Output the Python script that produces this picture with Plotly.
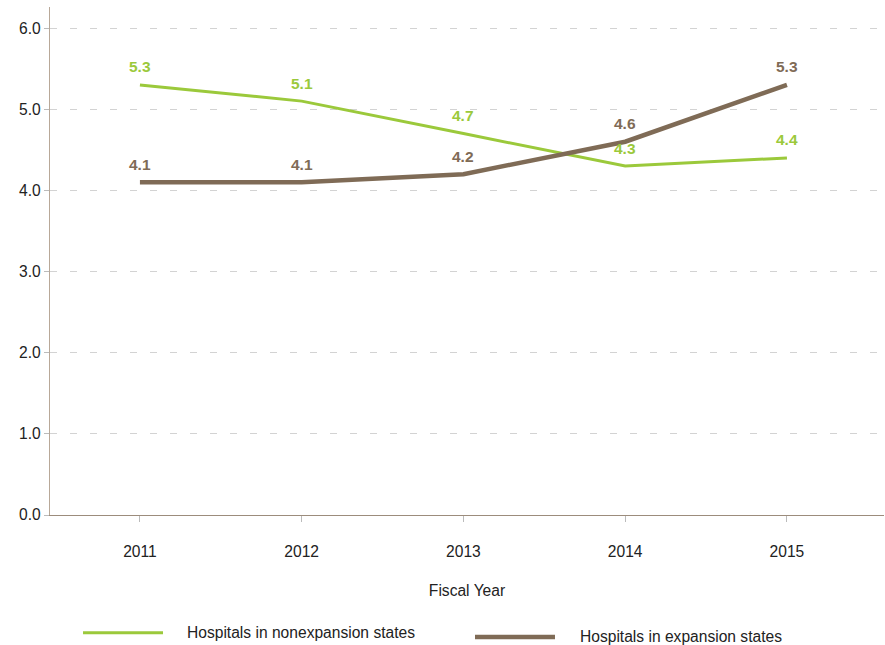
import plotly.graph_objects as go

# Fiscal years and series values (share, %)
years = [2011, 2012, 2013, 2014, 2015]
nonexpansion = [5.3, 5.1, 4.7, 4.3, 4.4]
expansion = [4.1, 4.1, 4.2, 4.6, 5.3]
y_ticks = [0, 1, 2, 3, 4, 5, 6]

series_names = ["Hospitals in nonexpansion states", "Hospitals in expansion states"]
GREEN = "#9BC93B"
BROWN = "#7F6B56"
FONT = "Liberation Sans, Arial, sans-serif"
FS = 15.6

fig = go.Figure()
fig.add_trace(go.Scatter(x=years, y=nonexpansion, mode="lines", name=series_names[0],
                         line=dict(color=GREEN, width=3), showlegend=False))
fig.add_trace(go.Scatter(x=years, y=expansion, mode="lines", name=series_names[1],
                         line=dict(color=BROWN, width=4.5), showlegend=False))

# value labels above each point
for vals, col in ((nonexpansion, GREEN), (expansion, BROWN)):
    for x, v in zip(years, vals):
        fig.add_annotation(x=x, y=v, text=f"<b>{v:.1f}</b>", showarrow=False,
                           yshift=18, font=dict(family=FONT, size=15.5, color=col))

# legend drawn below the plot with long line swatches
legend_items = [
    (series_names[0], GREEN, 3, 0.0396, 0.1355, 0.162, -0.232),
    (series_names[1], BROWN, 4.5, 0.5096, 0.6055, 0.633, -0.240),
]
for name, col, w, x0, x1, xt, yy in legend_items:
    fig.add_shape(type="line", xref="paper", yref="paper", x0=x0, x1=x1, y0=yy, y1=yy,
                  line=dict(color=col, width=w))
    fig.add_annotation(xref="paper", yref="paper", x=xt, y=yy, text=name, showarrow=False,
                       xanchor="left", yanchor="middle",
                       font=dict(family=FONT, size=FS, color="#222222"))

fig.update_layout(
    width=885, height=645,
    margin=dict(l=50, r=1, t=7, b=130),
    plot_bgcolor="white", paper_bgcolor="white",
    font=dict(family=FONT, size=FS, color="#222222"),
    showlegend=False,
)
fig.update_xaxes(
    range=[2010.444, 2015.6], tickvals=years, ticktext=[str(y) for y in years],
    showgrid=False, zeroline=False,
    showline=True, linecolor="#9C8C7C", linewidth=1.2,
    ticks="outside", ticklen=6, tickcolor="#BBBBBB", ticklabelstandoff=16,
    title=dict(text="Fiscal Year", standoff=26, font=dict(family=FONT, size=FS, color="#222222")),
)
fig.update_yaxes(
    range=[0, 6.26], tickvals=y_ticks, ticktext=[f"{v:.1f}" for v in y_ticks],
    showgrid=True, gridcolor="#D3D3D3", griddash="7px,13px", gridwidth=1,
    zeroline=False, showline=True, linecolor="#B8A898", linewidth=1.2,
    ticks="outside", ticklen=5, tickcolor="#BBBBBB",
)

fig.write_html("out.html")
